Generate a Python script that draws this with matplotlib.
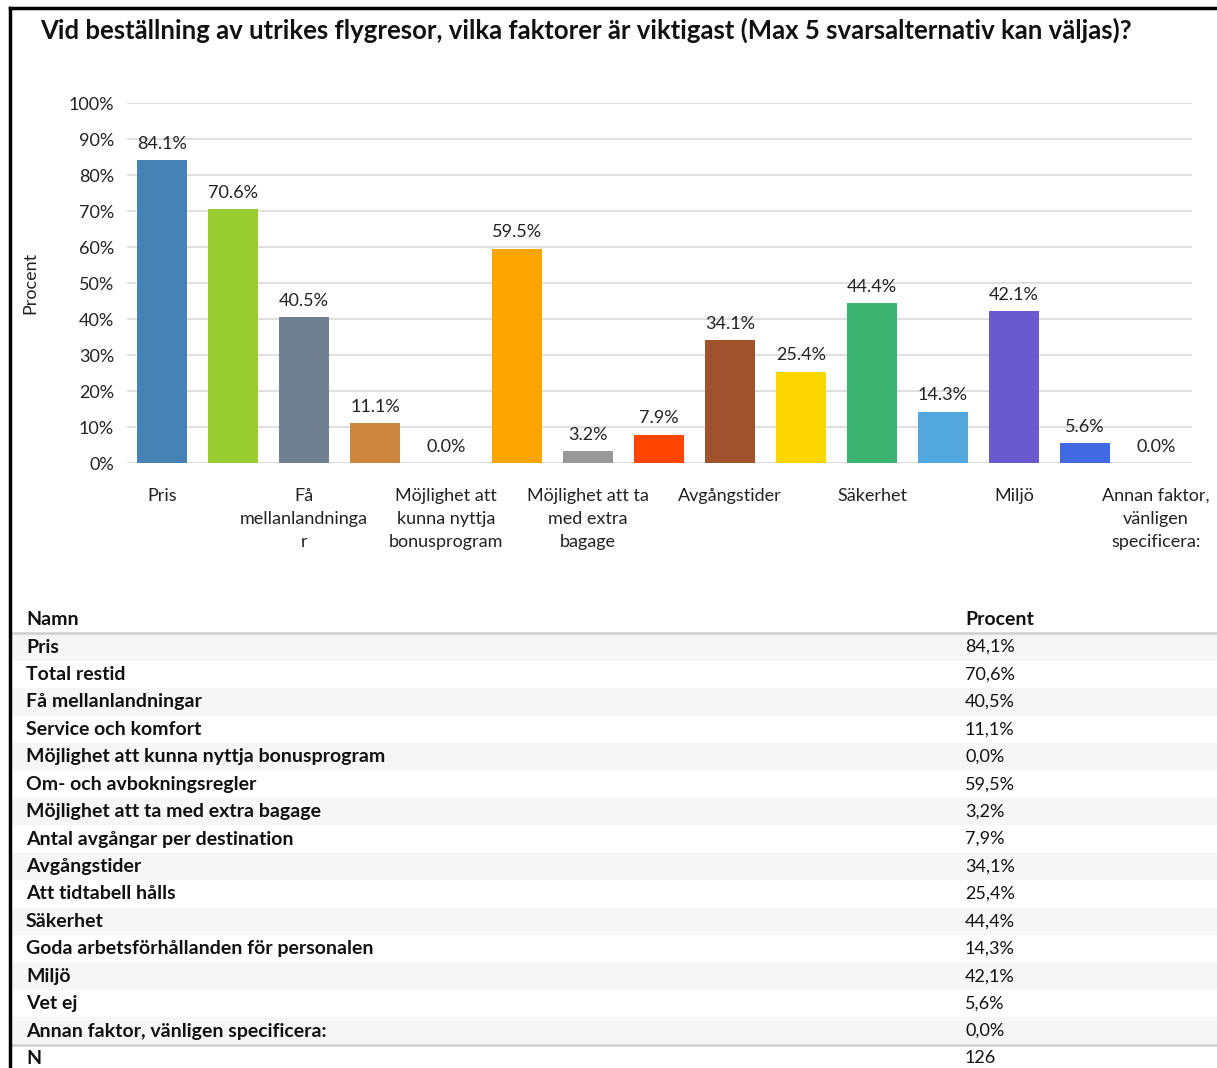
import matplotlib
matplotlib.use("Agg")
import matplotlib.pyplot as plt
from matplotlib.lines import Line2D
from matplotlib.patches import Rectangle

plt.rcParams['font.family'] = ['Lato', 'DejaVu Sans']

title = "Vid beställning av utrikes flygresor, vilka faktorer är viktigast (Max 5 svarsalternativ kan väljas)?"
categories = ["Pris", "Total restid", "Få mellanlandningar", "Service och komfort",
              "Möjlighet att kunna nyttja bonusprogram", "Om- och avbokningsregler",
              "Möjlighet att ta med extra bagage", "Antal avgångar per destination",
              "Avgångstider", "Att tidtabell hålls", "Säkerhet",
              "Goda arbetsförhållanden för personalen", "Miljö", "Vet ej",
              "Annan faktor, vänligen specificera:"]
values = [84.1, 70.6, 40.5, 11.1, 0.0, 59.5, 3.2, 7.9, 34.1, 25.4, 44.4, 14.3, 42.1, 5.6, 0.0]
tick_labels = ["Pris", "", "Få\nmellanlandninga\nr", "", "Möjlighet att\nkunna nyttja\nbonusprogram", "",
               "Möjlighet att ta\nmed extra\nbagage", "", "Avgångstider", "", "Säkerhet", "",
               "Miljö", "", "Annan faktor,\nvänligen\nspecificera:"]
colors = ["#4682B4", "#9ACD32", "#708090", "#CD853F", "#D3D3D3", "#FFA500", "#999999", "#FF4500",
          "#A0522D", "#FFD700", "#3CB371", "#52A8DE", "#6A5ACD", "#4169E1", "#D3D3D3"]
yticks = [0, 10, 20, 30, 40, 50, 60, 70, 80, 90, 100]
n_total = 126

W, H = 1217, 1068
fig = plt.figure(figsize=(W / 100, H / 100), dpi=100)

# --- bar chart ---
ax = fig.add_axes([126.5 / W, 1 - 463 / H, 1065 / W, 360 / H])
x = list(range(len(categories)))
bars = ax.bar(x, values, width=0.71, color=colors, zorder=3)
ax.set_xlim(-0.5, len(categories) - 0.5)
ax.set_ylim(0, 100)
ax.set_yticks(yticks)
ax.set_yticklabels([f"{t}%" for t in yticks], fontsize=13, color="#222222")
ax.yaxis.grid(True, color="#d9d9d9", linewidth=1.2, zorder=0)
ax.set_axisbelow(True)
for s in ax.spines.values():
    s.set_visible(False)
ax.tick_params(axis='y', length=0, pad=9)
ax.tick_params(axis='x', length=0, pad=18)
ax.set_xticks(x)
ax.set_xticklabels(tick_labels, fontsize=13, color="#222222", linespacing=1.55, va='top')
for xi, v in zip(x, values):
    ax.annotate(f"{v:.1f}%", (xi, v), xytext=(0, 6), textcoords="offset points",
                ha="center", va="bottom", fontsize=13, color="#222222")
ax.set_ylabel("Procent", fontsize=13, color="#222222", labelpad=22)

fig.text(40 / W, 1 - 30 / H, title, fontsize=18.5, fontweight="bold", va="center", ha="left", color="#111111")

# --- table ---
k_top = (600 - 619.6) / 27.43
k_bot = (1068 - 619.6) / 27.43
tax = fig.add_axes([0, 0, 1, 1 - 600 / H])
tax.set_xlim(0, W)
tax.set_ylim(k_bot, k_top)
tax.axis("off")
for i, (name, v) in enumerate(zip(categories, values)):
    k = i + 1
    if i % 2 == 0:
        tax.add_patch(Rectangle((10, k - 0.5), W - 10, 1, color="#f6f6f6", zorder=0, linewidth=0))
    tax.text(26, k, name, fontsize=14, fontweight="bold", va="center", ha="left", color="#111111")
    tax.text(965, k, f"{v:.1f}%".replace(".", ","), fontsize=13, va="center", ha="left", color="#111111")
tax.text(26, 0, "Namn", fontsize=14, fontweight="bold", va="center", ha="left", color="#111111")
tax.text(965, 0, "Procent", fontsize=14, fontweight="bold", va="center", ha="left", color="#111111")
kn = len(categories) + 1
tax.text(26, kn, "N", fontsize=14, fontweight="bold", va="center", ha="left", color="#111111")
tax.text(965, kn, str(n_total), fontsize=13, va="center", ha="left", color="#111111")
tax.plot([10, W], [0.5, 0.5], color="#cfcfcf", linewidth=1.8)
tax.plot([10, W], [kn - 0.5, kn - 0.5], color="#cfcfcf", linewidth=1.8)

# --- border ---
fig.add_artist(Line2D([10 / W, 10 / W], [0, 1 - 8 / H], color="black", linewidth=2.5, transform=fig.transFigure))
fig.add_artist(Line2D([10 / W, 1], [1 - 8 / H, 1 - 8 / H], color="black", linewidth=2.5, transform=fig.transFigure))

fig.savefig("out.png", dpi=100, facecolor="white")
